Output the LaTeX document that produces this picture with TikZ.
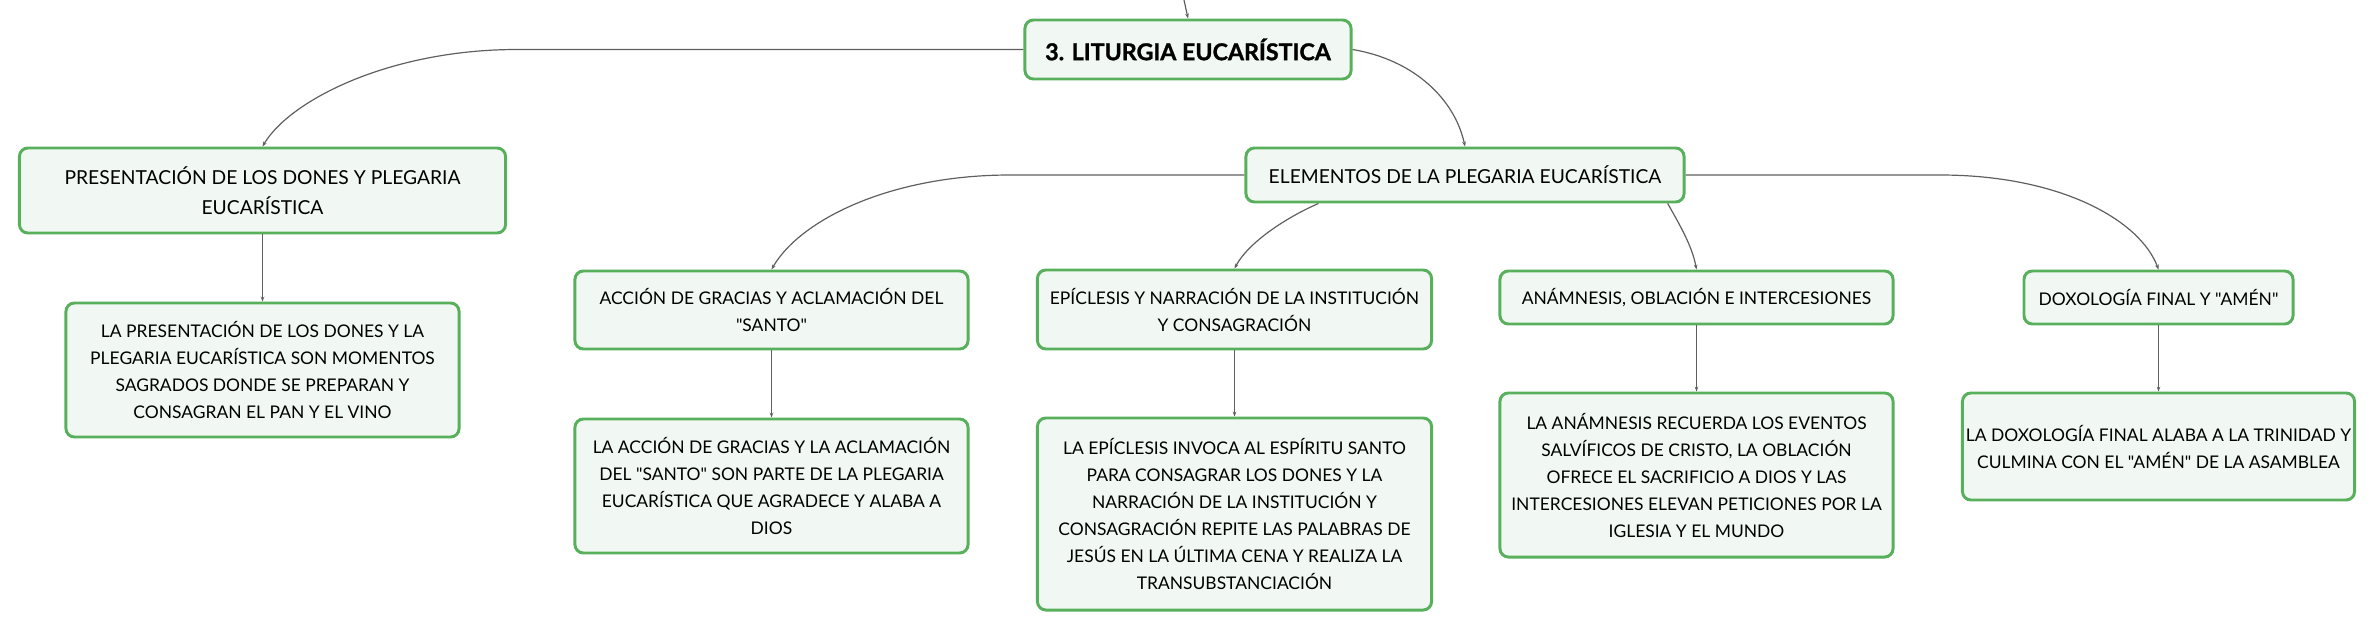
\documentclass[tikz,border=0pt]{standalone}
\usepackage{fontspec}
\setmainfont{Lato}[Ligatures=TeXOff]
\newfontfamily\rootfont{Lato Bold}[FakeBold=1.2]
\usepackage{tikz}
\usetikzlibrary{arrows.meta}
\definecolor{boxgreen}{RGB}{88,176,92}
\definecolor{boxfill}{RGB}{241,248,243}
\definecolor{linkgray}{RGB}{95,95,95}

\begin{document}
\begin{tikzpicture}[x=0.025cm,y=-0.025cm,
    box/.style={draw=boxgreen,fill=boxfill,line width=2.1pt,rounded corners=6pt,
      inner sep=0pt,align=center,font=\fontsize{12.4}{19.2}\selectfont},
    topbox/.style={box,font=\fontsize{13.7}{21.3}\selectfont},
    rootbox/.style={box,font=\rootfont\fontsize{16.5}{20}\selectfont},
    link/.style={draw=linkgray,line width=0.85pt,-{Stealth[length=3.5pt,width=2.6pt]}}]
        \useasboundingbox (0,0) rectangle (2376,631);
        % main node and the two branches
        \node[rootbox,minimum width=8.15cm,minimum height=1.475cm] (root) at (1188,49.5) {3. LITURGIA EUCARÍSTICA};
        \node[topbox,minimum width=12.15cm,minimum height=2.125cm] (pres) at (262.5,190.5) {PRESENTACIÓN DE LOS DONES Y PLEGARIA\\EUCARÍSTICA};
        \node[box,minimum width=9.825cm,minimum height=3.35cm] (presTxt) at (262.5,370) {LA PRESENTACIÓN DE LOS DONES Y LA\\PLEGARIA EUCARÍSTICA SON MOMENTOS\\SAGRADOS DONDE SE PREPARAN Y\\CONSAGRAN EL PAN Y EL VINO};
        \node[topbox,minimum width=10.95cm,minimum height=1.35cm] (elem) at (1465,175) {ELEMENTOS DE LA PLEGARIA EUCARÍSTICA};
        % elements of the prayer
        \node[box,minimum width=9.825cm,minimum height=1.95cm] (acc) at (771.5,310) {ACCIÓN DE GRACIAS Y ACLAMACIÓN DEL\\"SANTO"};
        \node[box,minimum width=9.825cm,minimum height=3.35cm] (accTxt) at (771.5,486) {LA ACCIÓN DE GRACIAS Y LA ACLAMACIÓN\\DEL "SANTO" SON PARTE DE LA PLEGARIA\\EUCARÍSTICA QUE AGRADECE Y ALABA A\\DIOS};
        \node[box,minimum width=9.85cm,minimum height=1.975cm] (epi) at (1234.5,309.5) {EPÍCLESIS Y NARRACIÓN DE LA INSTITUCIÓN\\Y CONSAGRACIÓN};
        \node[box,minimum width=9.85cm,minimum height=4.8cm] (epiTxt) at (1234.5,514) {LA EPÍCLESIS INVOCA AL ESPÍRITU SANTO\\PARA CONSAGRAR LOS DONES Y LA\\NARRACIÓN DE LA INSTITUCIÓN Y\\CONSAGRACIÓN REPITE LAS PALABRAS DE\\JESÚS EN LA ÚLTIMA CENA Y REALIZA LA\\TRANSUBSTANCIACIÓN};
        \node[box,minimum width=9.825cm,minimum height=1.325cm] (ana) at (1696.5,297.5) {ANÁMNESIS, OBLACIÓN E INTERCESIONES};
        \node[box,minimum width=9.825cm,minimum height=4.1cm] (anaTxt) at (1696.5,475) {LA ANÁMNESIS RECUERDA LOS EVENTOS\\SALVÍFICOS DE CRISTO, LA OBLACIÓN\\OFRECE EL SACRIFICIO A DIOS Y LAS\\INTERCESIONES ELEVAN PETICIONES POR LA\\IGLESIA Y EL MUNDO};
        \node[box,minimum width=6.725cm,minimum height=1.325cm] (dox) at (2158.5,297.5) {DOXOLOGÍA FINAL Y "AMÉN"};
        \node[box,minimum width=9.8cm,minimum height=2.675cm] (doxTxt) at (2158.5,446.5) {LA DOXOLOGÍA FINAL ALABA A LA TRINIDAD Y\\CULMINA CON EL "AMÉN" DE LA ASAMBLEA};
        % connectors
        \coordinate (up) at (1184,0);
        \draw[link] (up) -- (root.north);
        \draw[link] (root.west) -- (517,49.5) .. controls (390,49.5) and (290,100) .. (pres.north);
        \draw[link] (root.east) .. controls (1415,60) and (1455,100) .. (elem.north);
        \draw[link] (elem.west) -- (1010,175) .. controls (890,175) and (800,220) .. (acc.north);
        \draw[link] (elem.191) .. controls (1285,218) and (1248,243) .. (epi.north);
        \draw[link] (elem.352) .. controls (1678,222) and (1692,245) .. (ana.north);
        \draw[link] (elem.east) -- (1940,175) .. controls (2060,175) and (2140,220) .. (dox.north);
        \draw[link] (pres) -- (presTxt);
        \draw[link] (acc) -- (accTxt);
        \draw[link] (epi) -- (epiTxt);
        \draw[link] (ana) -- (anaTxt);
        \draw[link] (dox) -- (doxTxt);
      \end{tikzpicture}
\end{document}
